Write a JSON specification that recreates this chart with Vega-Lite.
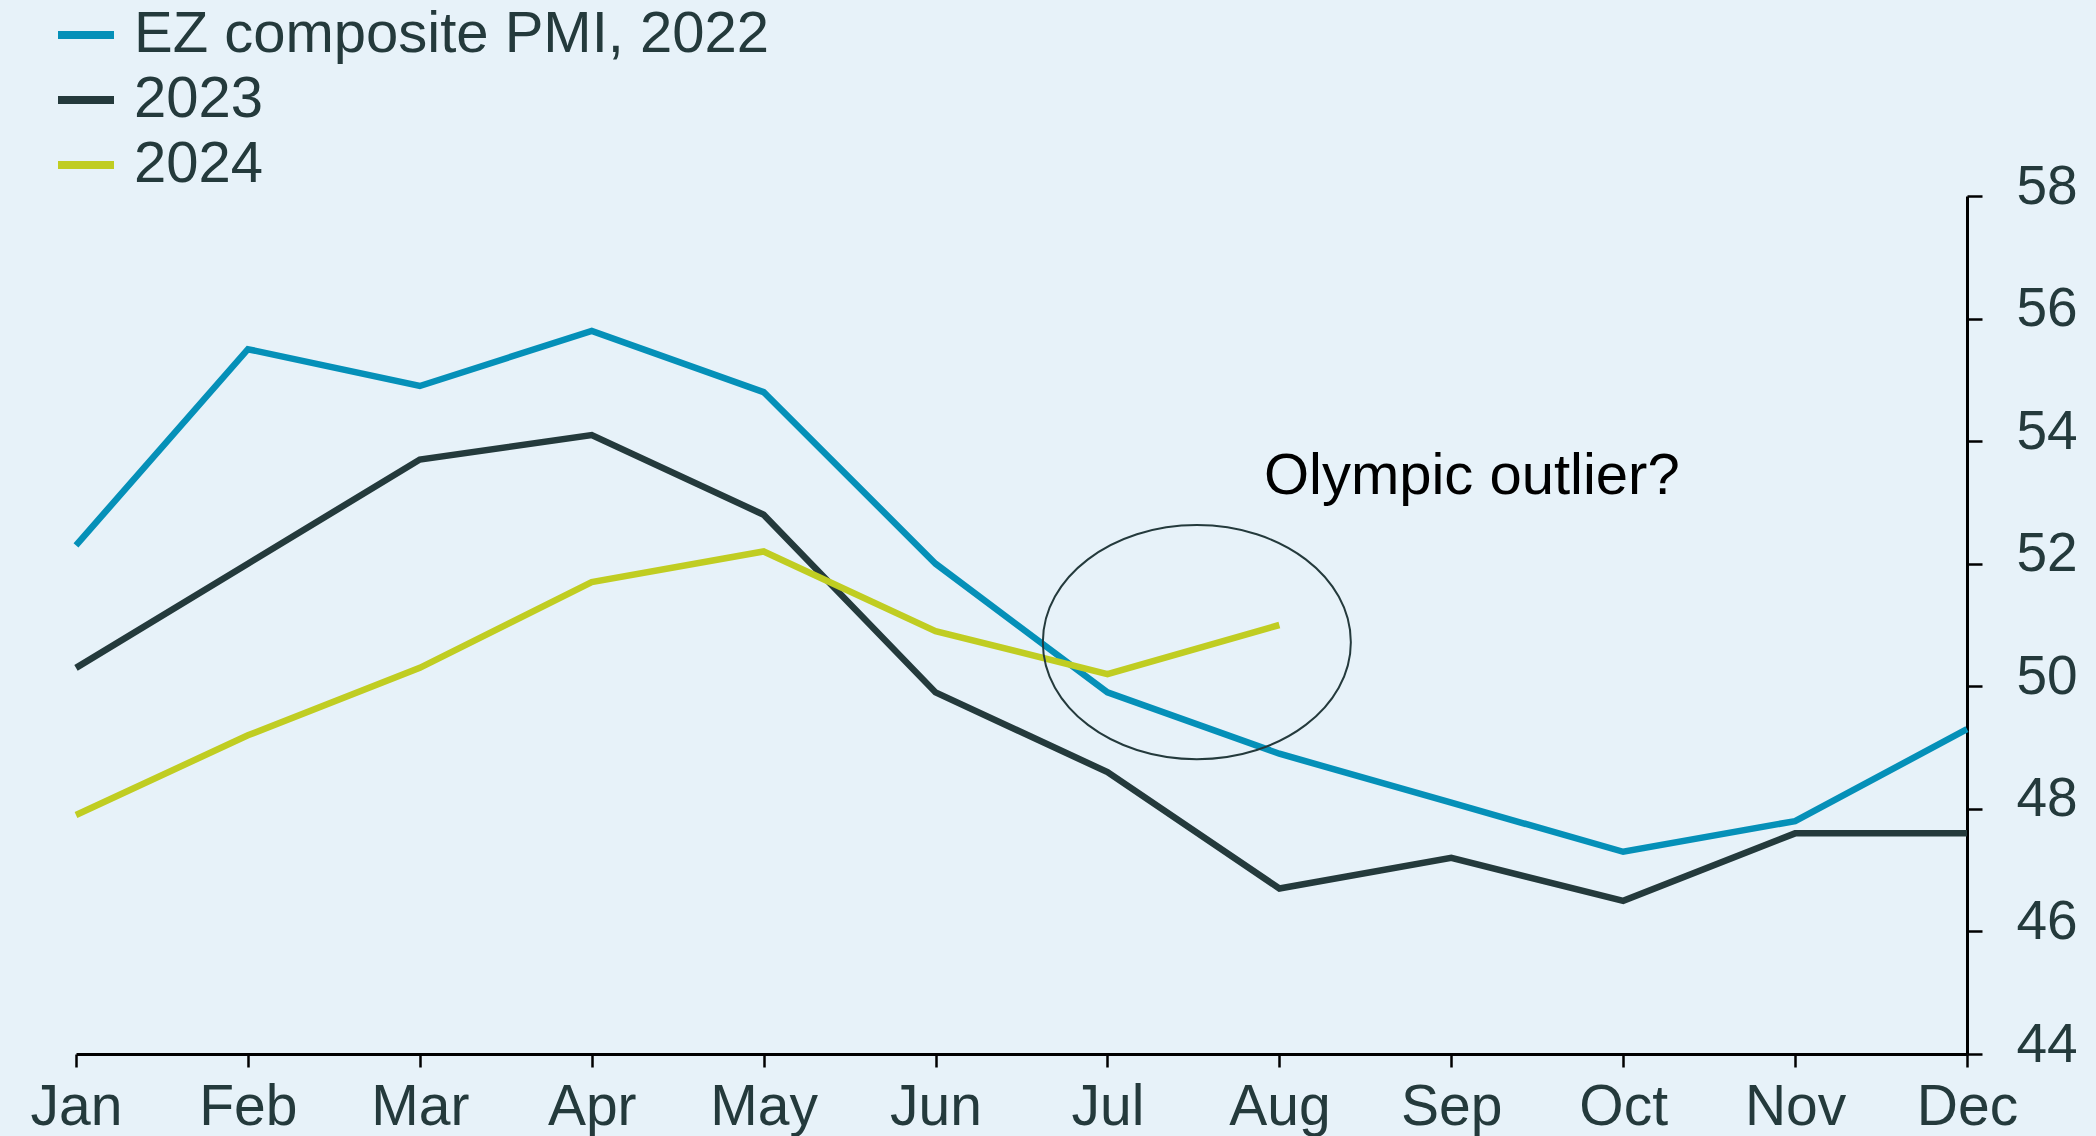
{
  "$schema": "https://vega.github.io/schema/vega-lite/v6.json",
  "width": 1891,
  "height": 858,
  "autosize": {"type": "none"},
  "padding": {"left": 76, "top": 196, "right": 129, "bottom": 82},
  "background": "#e7f2f9",
  "config": {
    "view": {"stroke": null},
    "font": "Liberation Sans"
  },
  "datasets": {
    "pmi": [
      {"month": 1, "series": "EZ composite PMI, 2022", "value": 52.3},
      {"month": 2, "series": "EZ composite PMI, 2022", "value": 55.5},
      {"month": 3, "series": "EZ composite PMI, 2022", "value": 54.9},
      {"month": 4, "series": "EZ composite PMI, 2022", "value": 55.8},
      {"month": 5, "series": "EZ composite PMI, 2022", "value": 54.8},
      {"month": 6, "series": "EZ composite PMI, 2022", "value": 52.0},
      {"month": 7, "series": "EZ composite PMI, 2022", "value": 49.9},
      {"month": 8, "series": "EZ composite PMI, 2022", "value": 48.9},
      {"month": 9, "series": "EZ composite PMI, 2022", "value": 48.1},
      {"month": 10, "series": "EZ composite PMI, 2022", "value": 47.3},
      {"month": 11, "series": "EZ composite PMI, 2022", "value": 47.8},
      {"month": 12, "series": "EZ composite PMI, 2022", "value": 49.3},
      {"month": 1, "series": "2023", "value": 50.3},
      {"month": 2, "series": "2023", "value": 52.0},
      {"month": 3, "series": "2023", "value": 53.7},
      {"month": 4, "series": "2023", "value": 54.1},
      {"month": 5, "series": "2023", "value": 52.8},
      {"month": 6, "series": "2023", "value": 49.9},
      {"month": 7, "series": "2023", "value": 48.6},
      {"month": 8, "series": "2023", "value": 46.7},
      {"month": 9, "series": "2023", "value": 47.2},
      {"month": 10, "series": "2023", "value": 46.5},
      {"month": 11, "series": "2023", "value": 47.6},
      {"month": 12, "series": "2023", "value": 47.6},
      {"month": 1, "series": "2024", "value": 47.9},
      {"month": 2, "series": "2024", "value": 49.2},
      {"month": 3, "series": "2024", "value": 50.3},
      {"month": 4, "series": "2024", "value": 51.7},
      {"month": 5, "series": "2024", "value": 52.2},
      {"month": 6, "series": "2024", "value": 50.9},
      {"month": 7, "series": "2024", "value": 50.2},
      {"month": 8, "series": "2024", "value": 51.0}
    ],
    "note": [
      {"label": "Olympic outlier?"}
    ]
  },
  "layer": [
    {
      "data": {"name": "pmi"},
      "mark": {"type": "line", "strokeWidth": 6.5, "strokeJoin": "miter", "strokeCap": "butt"},
      "encoding": {
        "x": {
          "field": "month", "type": "quantitative",
          "scale": {"domain": [1, 12], "nice": false, "zero": false},
          "axis": {
            "title": null, "grid": false,
            "values": [1,2,3,4,5,6,7,8,9,10,11,12],
            "labelExpr": "['Jan','Feb','Mar','Apr','May','Jun','Jul','Aug','Sep','Oct','Nov','Dec'][datum.value - 1]",
            "labelFontSize": 57, "labelColor": "#243a3c", "labelPadding": 12,
            "labelFlush": false, "labelOverlap": false, "labelBound": false,
            "domainColor": "#000000", "domainWidth": 3,
            "tickColor": "#000000", "tickWidth": 2.5, "tickSize": 13
          }
        },
        "y": {
          "field": "value", "type": "quantitative",
          "scale": {"domain": [44, 58], "nice": false, "zero": false},
          "axis": {
            "orient": "right", "title": null, "grid": false, "format": "d",
            "values": [44,46,48,50,52,54,56,58],
            "labelFontSize": 55, "labelColor": "#243a3c", "labelPadding": 34,
            "labelOffset": -10, "labelFlush": false, "labelOverlap": false, "labelBound": false,
            "domainColor": "#000000", "domainWidth": 3,
            "tickColor": "#000000", "tickWidth": 2.5, "tickSize": 15
          }
        },
        "color": {
          "field": "series", "type": "nominal",
          "scale": {
            "domain": ["EZ composite PMI, 2022", "2023", "2024"],
            "range": ["#0590b8", "#243a3c", "#c0cd22"]
          },
          "legend": {
            "title": null, "orient": "none", "legendX": -22, "legendY": -193,
            "symbolType": "stroke", "symbolStrokeWidth": 8, "symbolSize": 3136,
            "labelFontSize": 58, "labelColor": "#243a3c", "labelOffset": 16,
            "rowPadding": 4, "padding": 0, "labelLimit": 1000
          }
        }
      }
    },
    {
      "data": {"name": "note"},
      "mark": {
        "type": "point",
        "shape": "M -1 0 A 1 0.76 0 1 0 1 0 A 1 0.76 0 1 0 -1 0 Z",
        "size": 94864, "filled": false, "stroke": "#243a3c", "strokeWidth": 2, "opacity": 1
      },
      "encoding": {
        "x": {"datum": 7.52, "type": "quantitative"},
        "y": {"datum": 50.72, "type": "quantitative"}
      }
    },
    {
      "data": {"name": "note"},
      "mark": {
        "type": "text", "align": "left", "baseline": "alphabetic",
        "fontSize": 58, "color": "#000000", "font": "Liberation Sans"
      },
      "encoding": {
        "text": {"field": "label"},
        "x": {"datum": 7.91, "type": "quantitative"},
        "y": {"datum": 53.14, "type": "quantitative"}
      }
    }
  ]
}
